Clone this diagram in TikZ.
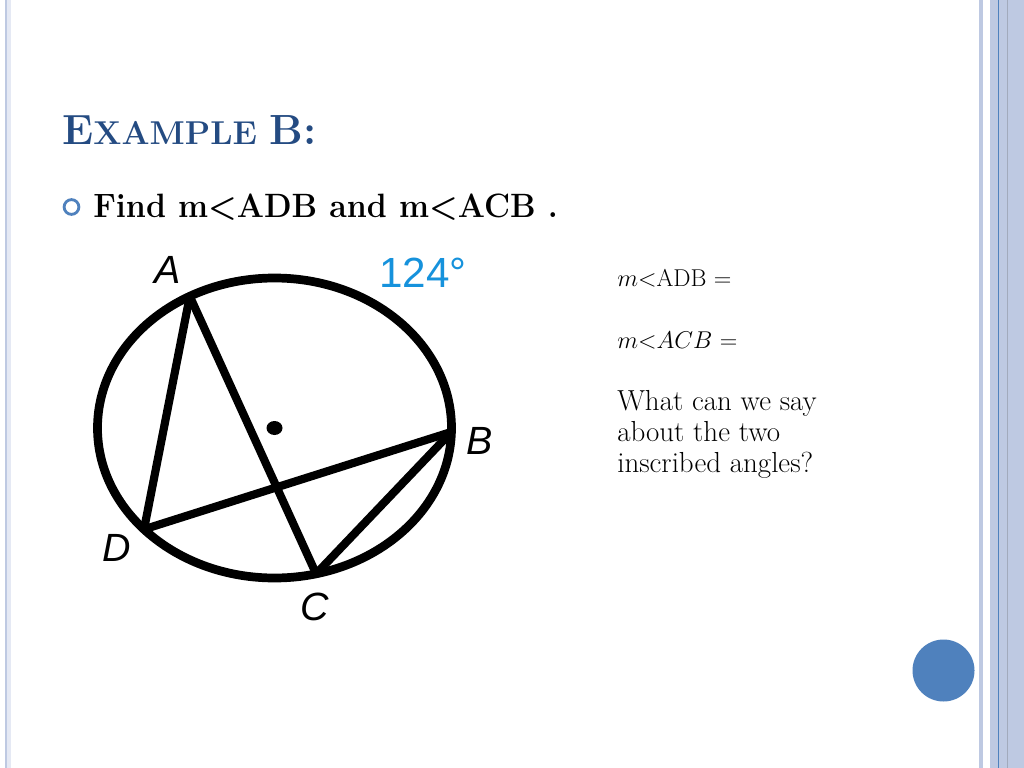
\documentclass[tikz,border=0pt]{standalone}
\usepackage{fontspec}
\newfontfamily\labelfont{Liberation Sans}
\usetikzlibrary{positioning, calc}
\definecolor{titleblue}{RGB}{36,75,130}
\definecolor{accentblue}{RGB}{79,129,189}
\definecolor{barblue}{RGB}{190,201,226}
\definecolor{degblue}{RGB}{22,146,220}

\begin{document}
\begin{tikzpicture}[
    x=0.025cm, y=-0.025cm,
    bar/.style={fill=barblue, draw=none},
    chord/.style={line width=5.8pt, line cap=round, line join=round},
    point_label/.style={font=\labelfont\itshape\fontsize{28}{28}\selectfont, inner sep=0},
    body_text/.style={anchor=base west, inner sep=0, align=left, font=\fontsize{17.3}{22}\selectfont}
]
    % page and margins
    \fill[white] (0,0) rectangle (1024,768);
    \useasboundingbox (0,0) rectangle (1024,768);

    % side bars
    \fill[bar] (4.5,0) rectangle (7,768);
    \fill[barblue!40] (7,0) rectangle (11,768);
    \fill[bar] (979,0) rectangle (983,768);
    \fill[bar] (990,0) rectangle (1024,768);
    \draw[accentblue, line width=0.6pt] (998.5,0) -- (998.5,768);
    \draw[barblue!80!black!90, line width=0.3pt] (1007,0) -- (1007,768);
    \fill[accentblue] (943.5,670.5) circle (31);

    % title and bullet
    \node[anchor=base west, inner sep=0, text=titleblue] (title) at (62,145)
        {\bfseries\fontsize{30}{30}\selectfont E\fontsize{23.5}{23.5}\selectfont XAMPLE
         \fontsize{30}{30}\selectfont B:};
    \node[circle, draw=accentblue, line width=2pt, minimum size=10.5pt, inner sep=0] (bullet) at (71.5,207) {};
    \node[anchor=base west, inner sep=0, font=\bfseries\fontsize{24}{24}\selectfont] (task) at (93,217)
        {\scalebox{0.95}[1]{Find m<ADB and m<ACB .}};

    % questions
    \node[body_text] (adb) at (617,286) {$m$<ADB =};
    \node[body_text] (acb) at (617,348) {$m$<$ACB$ =};
    \node[body_text, font=\fontsize{20.6}{22}\selectfont] (question) at (617,472)
        {What can we say\\about the two\\inscribed angles?};

    % circle with inscribed angles
    \coordinate (O) at (274.5,428);
    \draw[line width=6.2pt] (O) ellipse [x radius=177, y radius=150];
    \coordinate (A) at ($(O)+(-118.6:177 and 150)$);
    \coordinate (B) at ($(O)+(1.5:177 and 150)$);
    \coordinate (C) at ($(O)+(76.4:177 and 150)$);
    \coordinate (D) at ($(O)+(137.5:177 and 150)$);
    \fill (O) ellipse [x radius=8, y radius=7];

    \draw[chord] (A) -- (D);
    \draw[chord] (A) -- (C);
    \draw[chord] (D) -- (B);
    \draw[chord] (B) -- (C);

    % labels
    \node[point_label] (labelA) at (168,270) {A};
    \node[point_label] (labelB) at (480,441) {B};
    \node[point_label] (labelC) at (315,607) {C};
    \node[point_label] (labelD) at (116.5,548) {D};
    \node[inner sep=0, text=degblue, font=\labelfont\fontsize{30}{30}\selectfont] (arc) at (423,273) {124°};
\end{tikzpicture}
\end{document}
